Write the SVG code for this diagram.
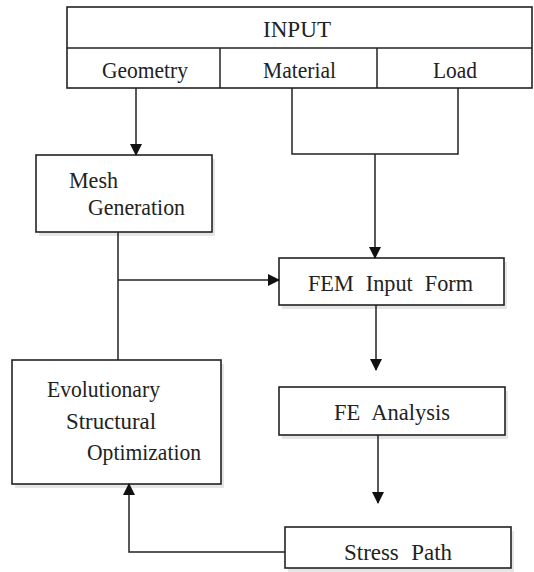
<svg xmlns="http://www.w3.org/2000/svg" width="534" height="572" viewBox="0 0 534 572">
<style>
.box{fill:#fff;stroke:#222;stroke-width:1.6}
.sh{fill:#e6e6e6}
.t{font-family:'Liberation Serif','DejaVu Serif','Times New Roman',serif;font-size:24px;fill:#222}
.w{word-spacing:7px}
.ln{fill:none;stroke:#222;stroke-width:1.5}
</style>
<defs>
<marker id="ah" markerWidth="12" markerHeight="16" refX="11" refY="6" orient="auto" markerUnits="userSpaceOnUse" viewBox="0 0 12 12">
<path d="M0,0 L12,6 L0,12 Z" fill="#111"/>
</marker>
</defs>
<rect width="534" height="572" fill="#fff"/>
<g id="input">
<rect class="box" x="67" y="7" width="465" height="81"/>
<line class="ln" x1="67" y1="48" x2="532" y2="48"/>
<line class="ln" x1="220" y1="48" x2="220" y2="88"/>
<line class="ln" x1="377" y1="48" x2="377" y2="88"/>
<text class="t" x="263" y="37" textLength="68" lengthAdjust="spacingAndGlyphs">INPUT</text>
<text class="t" x="102" y="78" textLength="86" lengthAdjust="spacingAndGlyphs">Geometry</text>
<text class="t" x="263" y="78" textLength="73" lengthAdjust="spacingAndGlyphs">Material</text>
<text class="t" x="433" y="78" textLength="44" lengthAdjust="spacingAndGlyphs">Load</text>
</g>
<g id="mesh">
<rect class="sh" x="39" y="159" width="176" height="77"/>
<rect class="box" x="36" y="155" width="176" height="77"/>
<text class="t" x="69" y="188" textLength="49" lengthAdjust="spacingAndGlyphs">Mesh</text>
<text class="t" x="88" y="215" textLength="97" lengthAdjust="spacingAndGlyphs">Generation</text>
</g>
<g id="fem">
<rect class="sh" x="282" y="262" width="225" height="47"/>
<rect class="box" x="279" y="258" width="225" height="47"/>
<text class="t w" x="308" y="291" textLength="165" lengthAdjust="spacingAndGlyphs">FEM Input Form</text>
</g>
<g id="eso">
<rect class="sh" x="15" y="364" width="209" height="124"/>
<rect class="box" x="12" y="360" width="209" height="124"/>
<text class="t" x="47" y="397" textLength="113" lengthAdjust="spacingAndGlyphs">Evolutionary</text>
<text class="t" x="66" y="429" textLength="90" lengthAdjust="spacingAndGlyphs">Structural</text>
<text class="t" x="87" y="460" textLength="114" lengthAdjust="spacingAndGlyphs">Optimization</text>
</g>
<g id="fea">
<rect class="sh" x="282" y="391" width="226" height="48"/>
<rect class="box" x="279" y="387" width="226" height="48"/>
<text class="t w" x="334" y="420" textLength="116" lengthAdjust="spacingAndGlyphs">FE Analysis</text>
</g>
<g id="stress">
<rect class="sh" x="288" y="531" width="226" height="41"/>
<rect class="box" x="285" y="527" width="226" height="41"/>
<text class="t w" x="344" y="560" textLength="108" lengthAdjust="spacingAndGlyphs">Stress Path</text>
</g>
<g id="connectors">
<line class="ln" x1="136" y1="88" x2="136" y2="155" marker-end="url(#ah)"/>
<polyline class="ln" points="292,88 292,154 458,154 458,88"/>
<line class="ln" x1="375" y1="154" x2="375" y2="258" marker-end="url(#ah)"/>
<line class="ln" x1="118" y1="232" x2="118" y2="360"/>
<line class="ln" x1="118" y1="280" x2="279" y2="280" marker-end="url(#ah)"/>
<line class="ln" x1="376" y1="305" x2="376" y2="370" marker-end="url(#ah)"/>
<line class="ln" x1="378" y1="435" x2="378" y2="503" marker-end="url(#ah)"/>
<polyline class="ln" points="285,552 129,552 129,484" marker-end="url(#ah)"/>
</g>
</svg>
